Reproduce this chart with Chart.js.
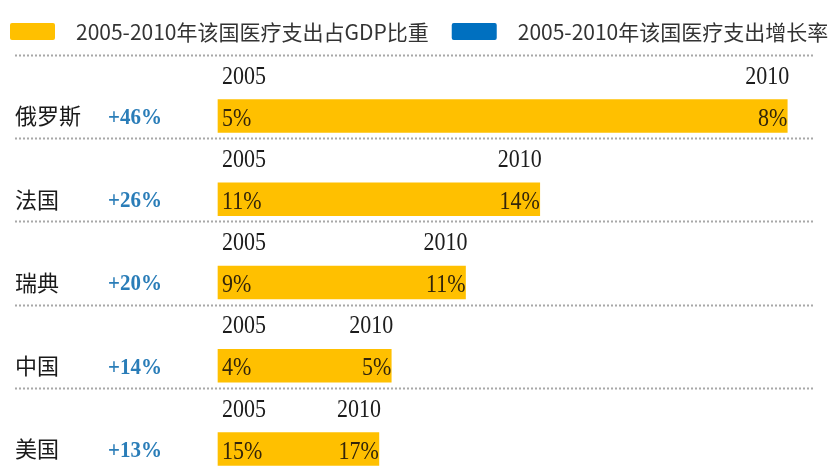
<!DOCTYPE html>
<html>
<head>
<meta charset="utf-8">
<script src="https://cdn.jsdelivr.net/npm/chart.js@4.4.1/dist/chart.umd.min.js"></script>
<style>
  html, body { margin: 0; padding: 0; background: #ffffff; }
  #wrap { width: 830px; height: 470px; position: relative; }
</style>
</head>
<body>
<div id="wrap"><canvas id="c"></canvas></div>
<script>
// ---- data ----
const countries = ['俄罗斯', '法国', '瑞典', '中国', '美国'];
const growthRate = [46, 26, 20, 14, 13];        // 2005-2010 growth, %
const gdpShare2005 = [5, 11, 9, 4, 15];          // % of GDP, 2005
const gdpShare2010 = [8, 14, 11, 5, 17];         // % of GDP, 2010
const yearLabels = ['2005', '2010'];
const seriesNames = ['2005-2010年该国医疗支出占GDP比重', '2005-2010年该国医疗支出增长率'];
const seriesColors = ['#FFC000', '#0070C0'];

const CJK = '"Noto Sans CJK SC", "Noto Sans", sans-serif';
const SERIF = '"Liberation Serif", "DejaVu Serif", serif';

function tallText(ctx, text, x, y, sy) {
  ctx.save();
  ctx.translate(x, y);
  ctx.scale(1, sy);
  ctx.fillText(text, 0, 0);
  ctx.restore();
}

const annotate = {
  id: 'annotate',
  beforeDatasetsDraw(chart) {
    const ctx = chart.ctx;
    const y = chart.scales.y;
    const step = y.getPixelForValue(1) - y.getPixelForValue(0);
    ctx.save();
    ctx.strokeStyle = '#a8a8a8';
    ctx.lineWidth = 2;
    ctx.setLineDash([2, 2]);
    const lines = [y.getPixelForValue(0) - step + 22];
    countries.forEach((c, i) => lines.push(y.getPixelForValue(i) + 22));
    lines.forEach(ly => {
      ctx.beginPath();
      ctx.moveTo(15, Math.round(ly) + 0.5);
      ctx.lineTo(815, Math.round(ly) + 0.5);
      ctx.stroke();
    });
    ctx.restore();
  },
  afterDatasetsDraw(chart) {
    const ctx = chart.ctx;
    const x = chart.scales.x;
    const y = chart.scales.y;
    ctx.save();
    // legend
    ctx.textBaseline = 'middle';
    ctx.textAlign = 'left';
    ctx.font = '21px ' + CJK;
    let lx = 10;
    seriesNames.forEach((name, i) => {
      ctx.fillStyle = seriesColors[i];
      ctx.beginPath();
      ctx.roundRect(lx, 23, 45, 17, 2);
      ctx.fill();
      ctx.fillStyle = '#333333';
      ctx.fillText(name, lx + 66, 32);
      lx = lx + 66 + ctx.measureText(name).width + 23;
    });
    // rows
    countries.forEach((c, i) => {
      const cy = y.getPixelForValue(i);
      const x0 = x.getPixelForValue(0);
      const x1 = x.getPixelForValue(growthRate[i]);
      ctx.textAlign = 'left';
      ctx.fillStyle = '#1a1a1a';
      ctx.font = '22px ' + CJK;
      ctx.fillText(c, 15, cy);
      ctx.fillStyle = '#2a7db8';
      ctx.font = 'bold 21px ' + SERIF;
      tallText(ctx, '+' + growthRate[i] + '%', 108, cy + 2, 1.1);
      ctx.font = '22px ' + SERIF;
      ctx.fillStyle = '#1c1c1c';
      tallText(ctx, yearLabels[0], x0 + 4, cy - 39, 1.14);
      ctx.textAlign = 'right';
      tallText(ctx, yearLabels[1], x1 + 2, cy - 39, 1.14);
      ctx.fillStyle = '#33250a';
      ctx.textAlign = 'left';
      tallText(ctx, gdpShare2005[i] + '%', x0 + 4, cy + 3, 1.14);
      ctx.textAlign = 'right';
      tallText(ctx, gdpShare2010[i] + '%', x1, cy + 3, 1.14);
    });
    ctx.restore();
  }
};

new Chart(document.getElementById('c'), {
  type: 'bar',
  data: {
    labels: countries,
    datasets: [{
      label: seriesNames[0],
      data: growthRate,
      backgroundColor: seriesColors[0],
      barThickness: 33,
      clip: false
    }]
  },
  options: {
    indexAxis: 'y',
    responsive: true,
    maintainAspectRatio: false,
    animation: false,
    events: [],
    layout: { padding: { top: 116, bottom: 21, right: 18, left: 0 } },
    plugins: { legend: { display: false }, tooltip: { enabled: false } },
    scales: {
      x: { display: false, min: 0, max: 48 },
      y: {
        offset: false,
        grid: { display: false },
        border: { display: false },
        ticks: { display: false },
        afterFit(scale) { scale.width = 218; }
      }
    }
  },
  plugins: [annotate]
});
</script>
</body>
</html>
